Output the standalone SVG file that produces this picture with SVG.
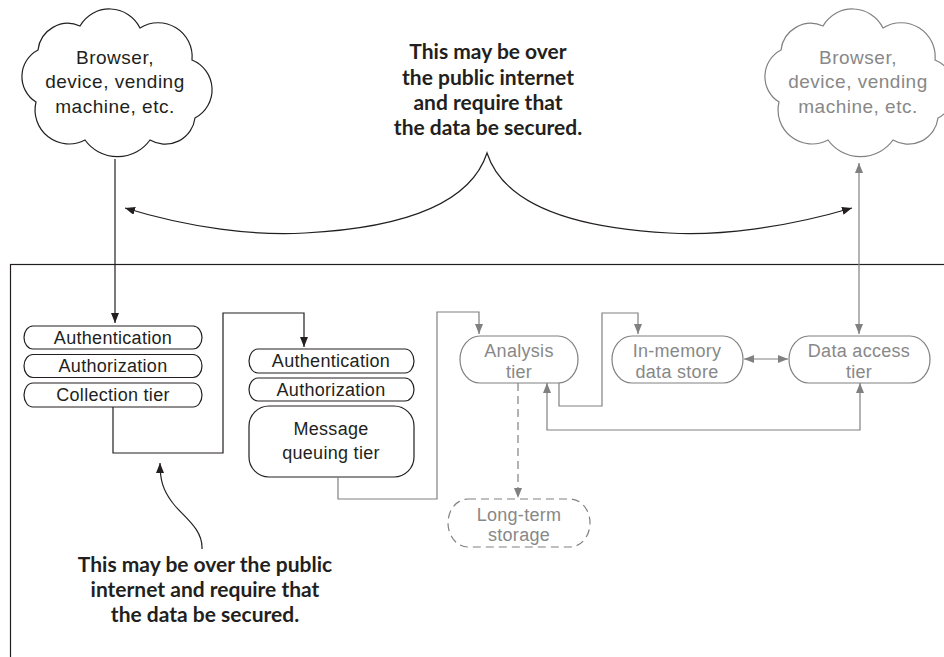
<svg xmlns="http://www.w3.org/2000/svg" width="944" height="657" viewBox="0 0 944 657">
<defs>
<marker id="ab" viewBox="0 0 10 8" refX="10" refY="4" markerWidth="10" markerHeight="8" markerUnits="userSpaceOnUse" orient="auto-start-reverse"><path d="M0,0 L10,4 L0,8 Z" fill="#231f20"/></marker>
<marker id="ag" viewBox="0 0 10 8" refX="10" refY="4" markerWidth="10" markerHeight="8" markerUnits="userSpaceOnUse" orient="auto-start-reverse"><path d="M0,0 L10,4 L0,8 Z" fill="#808080"/></marker>
</defs>
<style>
.blk{fill:none;stroke:#231f20;stroke-width:1.2}
.gry{fill:none;stroke:#808080;stroke-width:1.2}
.nt{font-family:"Liberation Sans",Arial,sans-serif;font-size:18px;text-anchor:middle;fill:#231f20;letter-spacing:0.3px}
.gt{font-family:"Liberation Sans",Arial,sans-serif;font-size:18px;text-anchor:middle;fill:#888888;letter-spacing:0.3px}
.ct{font-size:19px;letter-spacing:0.5px}
.note{font-family:Lato,"Open Sans",sans-serif;font-weight:bold;font-size:21px;text-anchor:middle;fill:#231f20}
</style>
<rect x="10.5" y="264.5" width="1000" height="500" fill="none" stroke="#231f20" stroke-width="1.2"/>

<g id="cloud-left">
<path class="blk" d="M36,102 A30,30 0 0 1 38,50 A30,30 0 0 1 80,26 A34,34 0 0 1 140,28 A34,34 0 0 1 192,60 A32,32 0 0 1 195,118 A30,30 0 0 1 150,140 A40,40 0 0 1 85,140 A34,34 0 0 1 36,102 Z"/>
<text class="nt ct" x="115" y="64">Browser,</text>
<text class="nt ct" x="115" y="88">device, vending</text>
<text class="nt ct" x="115" y="113">machine, etc.</text>
</g>
<g id="cloud-right">
<path class="gry" d="M779,102 A30,30 0 0 1 781,50 A30,30 0 0 1 823,26 A34,34 0 0 1 883,28 A34,34 0 0 1 935,60 A32,32 0 0 1 938,118 A30,30 0 0 1 893,140 A40,40 0 0 1 828,140 A34,34 0 0 1 779,102 Z"/>
<text class="gt ct" x="858" y="64">Browser,</text>
<text class="gt ct" x="858" y="88">device, vending</text>
<text class="gt ct" x="858" y="113">machine, etc.</text>
</g>

<g id="collection-stack">
<rect class="blk" x="24" y="326" width="178" height="23" rx="9" ry="11.5"/>
<text class="nt" x="113" y="344">Authentication</text>
<rect class="blk" x="24" y="354.5" width="178" height="23" rx="9" ry="11.5"/>
<text class="nt" x="113" y="372">Authorization</text>
<rect class="blk" x="24" y="383" width="178" height="24" rx="9" ry="12"/>
<text class="nt" x="113" y="401">Collection tier</text>
</g>
<g id="queue-stack">
<rect class="blk" x="249" y="349" width="165" height="24" rx="9" ry="12"/>
<text class="nt" x="331" y="367">Authentication</text>
<rect class="blk" x="249" y="378" width="165" height="23" rx="9" ry="11.5"/>
<text class="nt" x="331" y="395.5">Authorization</text>
<rect class="blk" x="249" y="406" width="165" height="71" rx="20" ry="20"/>
<text class="nt" x="331" y="435">Message</text>
<text class="nt" x="331" y="459">queuing tier</text>
</g>
<g id="analysis">
<rect class="gry" x="460" y="336" width="118" height="47" rx="20" ry="23.5"/>
<text class="gt" x="519" y="357">Analysis</text>
<text class="gt" x="519" y="378">tier</text>
</g>
<g id="in-memory">
<rect class="gry" x="612" y="336" width="131" height="47" rx="20" ry="23.5"/>
<text class="gt" x="677" y="357">In-memory</text>
<text class="gt" x="677" y="378">data store</text>
</g>
<g id="data-access">
<rect class="gry" x="789" y="336" width="141" height="47" rx="20" ry="23.5"/>
<text class="gt" x="859" y="357">Data access</text>
<text class="gt" x="859" y="378">tier</text>
</g>
<g id="long-term">
<rect class="gry" x="448" y="499" width="142" height="48" rx="20" ry="24" stroke-dasharray="8,5"/>
<text class="gt" x="519" y="521">Long-term</text>
<text class="gt" x="519" y="541">storage</text>
</g>

<g id="connectors">
<path class="blk" d="M115,159 V323" marker-end="url(#ab)"/>
<path class="blk" d="M113,407 V453 H223 V313 H304 V347" marker-end="url(#ab)"/>
<path class="gry" d="M338,477 V499 H437 V312 H479 V334" marker-end="url(#ag)"/>
<path class="gry" d="M559,383 V406 H602 V313 H638 V334" marker-end="url(#ag)"/>
<path class="gry" d="M744,359 H788" marker-start="url(#ag)" marker-end="url(#ag)"/>
<path class="gry" d="M860,383 V430 H547 V383" marker-start="url(#ag)" marker-end="url(#ag)"/>
<path class="gry" d="M859,163 V334" marker-start="url(#ag)" marker-end="url(#ag)"/>
<path class="gry" d="M518,383 V498" stroke-dasharray="8,5" marker-end="url(#ag)"/>
<path class="blk" d="M125,208 C190,228 255,236 305,233 C400,228 470,205 487,153 C504,205 574,228 669,233 C719,236 784,228 852,208" marker-start="url(#ab)" marker-end="url(#ab)"/>
<path class="blk" d="M202,549 C203,528 182,516 172,502 C163,490 160,480 160,463" marker-end="url(#ab)"/>
</g>

<g id="notes">
<text class="note" x="488" y="59">This may be over</text>
<text class="note" x="488" y="84.5">the public internet</text>
<text class="note" x="488" y="110">and require that</text>
<text class="note" x="488" y="135">the data be secured.</text>
<text class="note" x="205" y="572">This may be over the public</text>
<text class="note" x="205" y="597">internet and require that</text>
<text class="note" x="205" y="622">the data be secured.</text>
</g>
</svg>
